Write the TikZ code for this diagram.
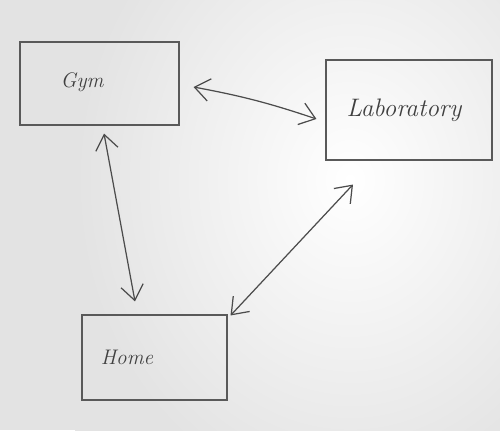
\documentclass[tikz,border=0pt]{standalone}
\usepackage{amsmath}
\usetikzlibrary{arrows.meta}

\tikzset{
	place/.style={shape=rectangle,draw=black!65,line width=0.6pt},
	word/.style={font=\large\itshape,text=black!75},
	link/.style={{Straight Barb[length=3mm,width=4.5mm]}-{Straight Barb[length=3mm,width=4.5mm]},draw=black!70,line width=0.7pt}
}

\begin{document}
\begin{tikzpicture}
	\useasboundingbox (0,0) rectangle (10,8.6);
	% paper
	\begin{scope}
		\clip (0,0) rectangle (10,8.6);
		\fill[black!11] (0,0) rectangle (10,8.6);
		\shade[inner color=white,outer color=black!11] (1.5,-1.5) rectangle (12.5,11.5);
	\end{scope}

	\node[place,minimum width=3.18cm,minimum height=1.66cm] (gym)  at (1.99, 6.93) {};
	\node[place,minimum width=3.32cm,minimum height=2.00cm] (lab)  at (8.18, 6.40) {};
	\node[place,minimum width=2.90cm,minimum height=1.70cm] (home) at (3.09, 1.45) {};

	\node[word] (gymtext)  at (1.64, 6.96) {Gym};
	\node[word,font=\Large\itshape] (labtext)  at (8.08, 6.40) {Laboratory};
	\node[word] (hometext) at (2.54, 1.46) {Home};

	\draw[link] ([xshift=0.28cm,yshift=-0.07cm]gym.east) to [bend left=4] ([xshift=-0.18cm,yshift=-0.18cm]lab.west);
	\draw[link] ([xshift=0.09cm,yshift=-0.16cm]gym.south) -- ([xshift=-0.39cm,yshift=0.26cm]home.north);
	\draw[link] ([xshift=0.06cm,yshift=-0.02cm]home.north east) -- ([xshift=-1.12cm,yshift=-0.48cm]lab.south);
\end{tikzpicture}
\end{document}
